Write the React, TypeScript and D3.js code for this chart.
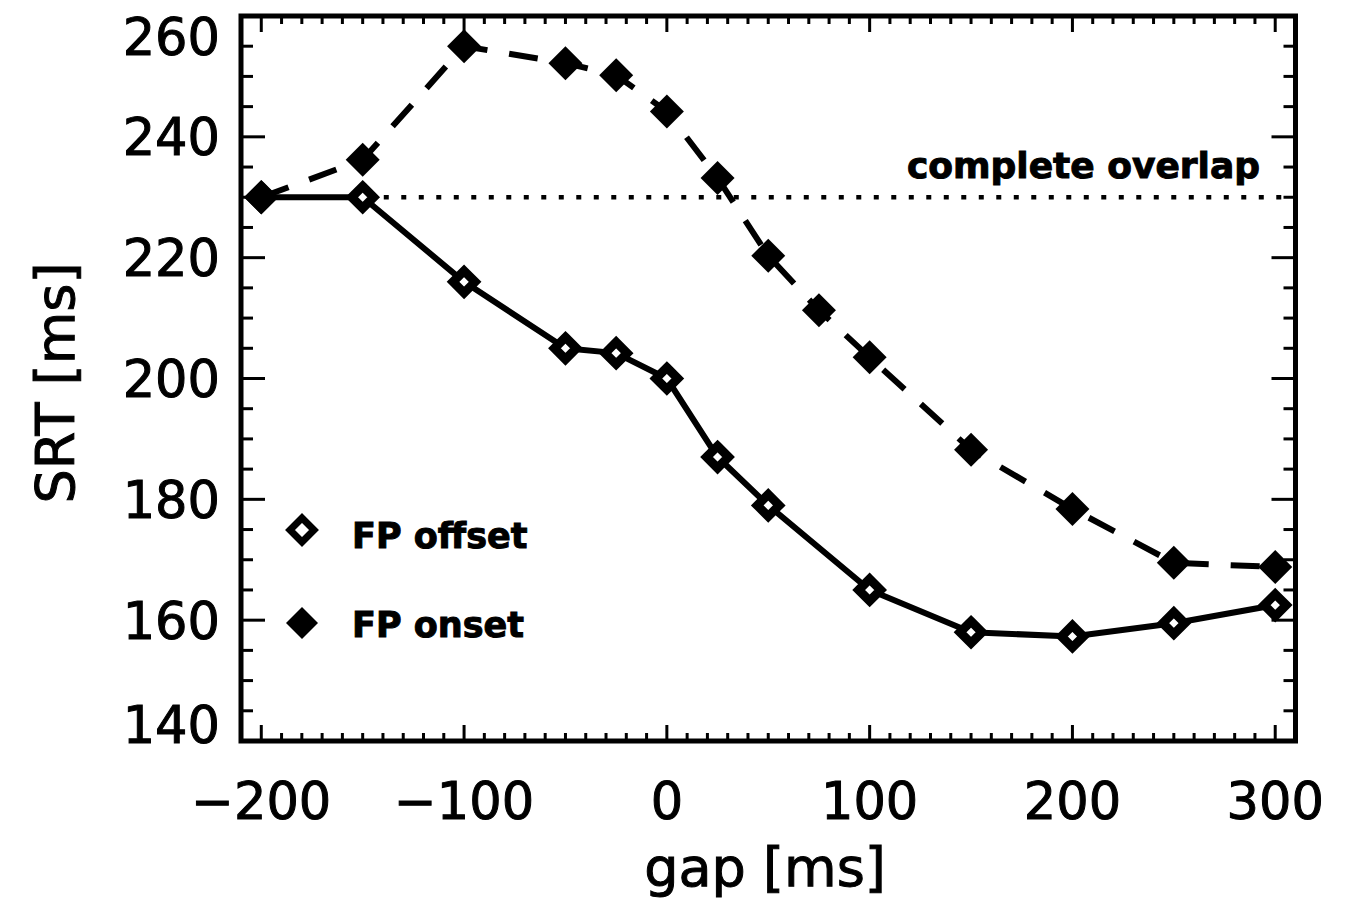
import React from "react";
import * as d3 from "d3";

const gaps = [-200, -150, -100, -50, -25, 0, 25, 50, 100, 150, 200, 250, 300];
const offsetSRT = [230, 230, 216, 205, 204.2, 200, 187, 179, 165, 158, 157.3, 159.5, 162.5];
const onsetGaps = [-200, -150, -100, -50, -25, 0, 25, 50, 75, 100, 150, 200, 250, 300];
const onsetSRT = [230, 236.2, 255, 252.2, 250.2, 244.2, 233.2, 220.3, 211.3, 203.5, 188.2, 178.4, 169.5, 168.8];
const overlapSRT = 230;
const xTicks = [-200, -100, 0, 100, 200, 300];
const yTicks = [140, 160, 180, 200, 220, 240, 260];
const legendLabels = ["FP offset", "FP onset"];

const W = 1345;
const H = 901;
const L = 241, R = 1295.5, T = 16, B = 741;

export default function App() {
  const x = d3.scaleLinear().domain([-210, 310]).range([L, R]);
  const y = d3.scaleLinear().domain([140, 260]).range([B, T]);
  const line = d3.line<[number, number]>().x(d => x(d[0])).y(d => y(d[1]));
  const offsetPts: [number, number][] = gaps.map((g, i) => [g, offsetSRT[i]]);
  const onsetPts: [number, number][] = onsetGaps.map((g, i) => [g, onsetSRT[i]]);
  const xMinor = d3.range(-210, 311, 10);
  const yMinor = d3.range(140, 261, 5);
  const diamond = (r: number) => `M0,${-r}L${r},0L0,${r}L${-r},0Z`;
  const font = "'DejaVu Sans', sans-serif";
  const thick = { stroke: "#000", strokeWidth: 1 };

  return (
    <svg width={W} height={H} style={{ position: "absolute", left: 0, top: 0, background: "#fff" }}>
      <rect x={0} y={0} width={W} height={H} fill="#fff" />
      {/* minor & major ticks */}
      <g stroke="#000" strokeWidth={3}>
        {xMinor.map(v => {
          const major = xTicks.includes(v);
          const len = major ? 16 : 8;
          return (
            <g key={"xm" + v}>
              <line x1={x(v)} x2={x(v)} y1={B} y2={B - len} />
              <line x1={x(v)} x2={x(v)} y1={T} y2={T + len} />
            </g>
          );
        })}
        {yMinor.map(v => {
          const major = yTicks.includes(v);
          const len = major ? 24 : 12;
          return (
            <g key={"ym" + v}>
              <line x1={L} x2={L + len} y1={y(v)} y2={y(v)} />
              <line x1={R} x2={R - len} y1={y(v)} y2={y(v)} />
            </g>
          );
        })}
      </g>
      {/* frame */}
      <rect x={L} y={T} width={R - L} height={B - T} fill="none" stroke="#000" strokeWidth={5} />

      {/* complete overlap reference line */}
      <line x1={x(-200)} x2={R} y1={y(overlapSRT)} y2={y(overlapSRT)} stroke="#000" strokeWidth={4.5} strokeDasharray="5 12.5" />
      <text x={1260} y={178} textAnchor="end" fontFamily={font} fontWeight="bold" fontSize={36} {...thick}>complete overlap</text>

      {/* FP offset: solid line, open diamonds */}
      <path d={line(offsetPts) || ""} fill="none" stroke="#000" strokeWidth={6} strokeLinejoin="round" />
      {offsetPts.map((p, i) => (
        <path key={"o" + i} d={diamond(11)} transform={`translate(${x(p[0])},${y(p[1])})`} fill="#fff" stroke="#000" strokeWidth={9} />
      ))}

      {/* FP onset: dashed line, filled diamonds */}
      <path d={line(onsetPts) || ""} fill="none" stroke="#000" strokeWidth={6} strokeDasharray="29 22" />
      {onsetPts.map((p, i) => (
        <path key={"f" + i} d={diamond(17)} transform={`translate(${x(p[0])},${y(p[1])})`} fill="#000" />
      ))}

      {/* legend */}
      <path d={diamond(12)} transform="translate(302,530)" fill="#fff" stroke="#000" strokeWidth={7} />
      <text x={352} y={548} fontFamily={font} fontWeight="bold" fontSize={35} {...thick}>{legendLabels[0]}</text>
      <path d={diamond(16)} transform="translate(302,623)" fill="#000" />
      <text x={352} y={637} fontFamily={font} fontWeight="bold" fontSize={35} {...thick}>{legendLabels[1]}</text>

      {/* tick labels */}
      {xTicks.map(v => (
        <text key={"xl" + v} x={x(v)} y={819} textAnchor="middle" fontFamily={font} fontSize={51} {...thick}>
          {v < 0 ? "\u2212" + Math.abs(v) : String(v)}
        </text>
      ))}
      {yTicks.map(v => {
        const cy = Math.max(37, Math.min(725, y(v)));
        return (
          <text key={"yl" + v} x={220} y={cy} dy="0.36em" textAnchor="end" fontFamily={font} fontSize={51} {...thick}>{v}</text>
        );
      })}

      {/* axis titles */}
      <text x={765} y={886} textAnchor="middle" fontFamily={font} fontSize={54} {...thick}>gap [ms]</text>
      <text transform="translate(74,383) rotate(-90)" textAnchor="middle" fontFamily={font} fontSize={54} {...thick}>SRT [ms]</text>
    </svg>
  );
}
